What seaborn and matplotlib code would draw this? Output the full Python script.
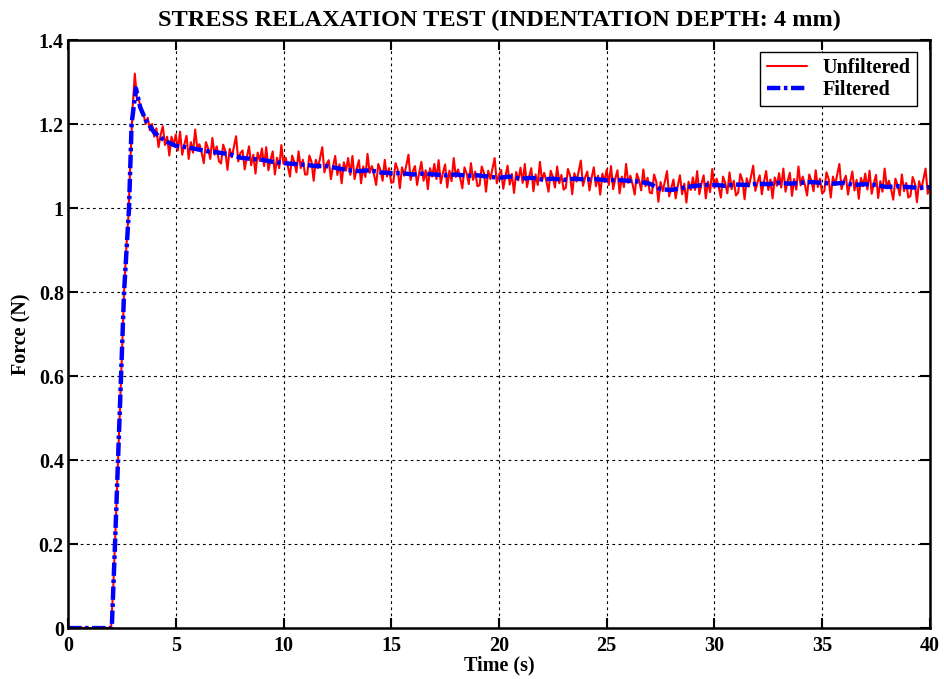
import numpy as np
import pandas as pd
import matplotlib
matplotlib.use("Agg")
import matplotlib.pyplot as plt
import seaborn as sns

# ---------------- data ----------------
title = "STRESS RELAXATION TEST (INDENTATION DEPTH: 4 mm)"
x_label = "Time (s)"
y_label = "Force (N)"
x_ticks = [0, 5, 10, 15, 20, 25, 30, 35, 40]
y_ticks = [0, 0.2, 0.4, 0.6, 0.8, 1.0, 1.2, 1.4]
y_tick_labels = ["0", "0.2", "0.4", "0.6", "0.8", "1", "1.2", "1.4"]

raw_t_start, raw_t_step = 0.0, 0.1
force_raw = [
    # 0.0 - 2.0
    0, 0.002, 0, -0.001, 0.001, 0, 0.002, 0, 0, 0.001,
    0, -0.001, 0.002, 0, 0.001, 0, 0, 0.002, 0, 0.001, 0,
    # 2.1 - 3.0
    0.10, 0.23, 0.37, 0.51, 0.65, 0.80, 0.90, 0.98, 1.12, 1.24,
    # 3.1 - 4.0
    1.32, 1.26, 1.255, 1.23, 1.225, 1.20, 1.215, 1.185, 1.20, 1.17,
    1.19, 1.145, 1.175, 1.195, 1.15, 1.17, 1.125, 1.17, 1.15, 1.175,
    1.137, 1.182, 1.127, 1.152, 1.172, 1.117, 1.157, 1.132, 1.187, 1.142,
    1.152, 1.132, 1.107, 1.157, 1.142, 1.117, 1.167, 1.127, 1.147, 1.112,
    1.106, 1.151, 1.136, 1.091, 1.141, 1.121, 1.146, 1.171, 1.111, 1.131,
    1.137, 1.092, 1.122, 1.147, 1.102, 1.127, 1.082, 1.132, 1.112, 1.142,
    1.10, 1.145, 1.09, 1.115, 1.135, 1.08, 1.12, 1.095, 1.15, 1.105,
    1.12, 1.10, 1.075, 1.125, 1.11, 1.085, 1.135, 1.095, 1.115, 1.08,
    1.08, 1.125, 1.11, 1.065, 1.115, 1.095, 1.12, 1.145, 1.085, 1.105,
    1.114, 1.069, 1.099, 1.124, 1.079, 1.104, 1.059, 1.109, 1.089, 1.119,
    1.079, 1.124, 1.069, 1.094, 1.114, 1.059, 1.099, 1.074, 1.129, 1.084,
    1.10, 1.08, 1.055, 1.105, 1.09, 1.065, 1.115, 1.075, 1.095, 1.06,
    1.062, 1.107, 1.092, 1.047, 1.097, 1.077, 1.102, 1.127, 1.067, 1.087,
    1.10, 1.055, 1.085, 1.11, 1.065, 1.09, 1.045, 1.095, 1.075, 1.105,
    1.069, 1.114, 1.059, 1.084, 1.104, 1.049, 1.089, 1.064, 1.119, 1.074,
    1.092, 1.072, 1.047, 1.097, 1.082, 1.057, 1.107, 1.067, 1.087, 1.052,
    1.054, 1.099, 1.084, 1.039, 1.089, 1.069, 1.094, 1.119, 1.059, 1.079,
    1.091, 1.046, 1.076, 1.101, 1.056, 1.081, 1.036, 1.086, 1.066, 1.096,
    1.06, 1.105, 1.05, 1.075, 1.095, 1.04, 1.08, 1.055, 1.11, 1.065,
    1.084, 1.064, 1.039, 1.089, 1.074, 1.049, 1.099, 1.059, 1.079, 1.044,
    1.048, 1.093, 1.078, 1.033, 1.083, 1.063, 1.088, 1.113, 1.053, 1.073,
    1.087, 1.042, 1.072, 1.097, 1.052, 1.077, 1.032, 1.082, 1.062, 1.092,
    1.055, 1.10, 1.045, 1.07, 1.09, 1.035, 1.075, 1.05, 1.105, 1.06,
    1.077, 1.057, 1.032, 1.082, 1.067, 1.042, 1.092, 1.052, 1.072, 1.037,
    1.035, 1.08, 1.063, 1.015, 1.062, 1.04, 1.063, 1.088, 1.028, 1.048,
    1.068, 1.023, 1.053, 1.078, 1.033, 1.058, 1.013, 1.063, 1.043, 1.073,
    1.043, 1.088, 1.033, 1.058, 1.078, 1.023, 1.063, 1.038, 1.093, 1.048,
    1.07, 1.05, 1.025, 1.075, 1.06, 1.035, 1.085, 1.045, 1.065, 1.03,
    1.036, 1.081, 1.066, 1.021, 1.071, 1.051, 1.076, 1.101, 1.041, 1.061,
    1.078, 1.033, 1.063, 1.088, 1.043, 1.068, 1.023, 1.073, 1.053, 1.083,
    1.049, 1.094, 1.039, 1.064, 1.084, 1.029, 1.069, 1.044, 1.099, 1.054,
    1.075, 1.055, 1.03, 1.08, 1.065, 1.04, 1.09, 1.05, 1.07, 1.035,
    1.04, 1.085, 1.07, 1.025, 1.075, 1.055, 1.08, 1.105, 1.045, 1.065,
    1.077, 1.032, 1.062, 1.087, 1.042, 1.067, 1.022, 1.072, 1.052, 1.082,
    1.044, 1.089, 1.034, 1.059, 1.079, 1.024, 1.064, 1.039, 1.094, 1.049,
    1.065, 1.045, 1.02, 1.07, 1.055, 1.03, 1.08, 1.04, 1.06, 1.025,
    1.029, 1.074, 1.059, 1.014, 1.064, 1.044, 1.069, 1.094, 1.034, 1.054,
]
time_raw = np.round(raw_t_start + raw_t_step * np.arange(len(force_raw)), 2)

time_filt = [0, 0.5, 1.0, 1.5, 2.03, 2.18, 2.32, 2.46, 2.6, 2.83, 2.95, 3.15,
             3.35, 3.6, 3.8, 4.0, 4.5, 5.0, 5.5, 6.0, 6.5, 7.0, 7.5, 8.0, 8.5,
             9.0, 9.5, 10.0, 10.5, 11.0, 11.5, 12.0, 12.5, 13.0, 13.5, 14.0,
             14.5, 15.0, 15.5, 16.0, 16.5, 17.0, 17.5, 18.0, 18.5, 19.0, 19.5,
             20.0, 20.5, 21.0, 21.5, 22.0, 22.5, 23.0, 23.5, 24.0, 24.5, 25.0,
             25.5, 26.0, 26.5, 27.0, 27.5, 28.0, 28.5, 29.0, 29.5, 30.0, 30.5,
             31.0, 31.5, 32.0, 32.5, 33.0, 33.5, 34.0, 34.5, 35.0, 35.5, 36.0,
             36.5, 37.0, 37.5, 38.0, 38.5, 39.0, 39.5, 40.0]
force_filt = [0, 0, 0, 0, 0, 0.2, 0.4, 0.6, 0.8, 1.0, 1.2, 1.285,
              1.24, 1.21, 1.195, 1.18, 1.16, 1.148, 1.145, 1.14, 1.135, 1.132,
              1.128, 1.12, 1.117, 1.115, 1.11, 1.107, 1.105, 1.103, 1.10, 1.10,
              1.095, 1.09, 1.088, 1.09, 1.085, 1.083, 1.083, 1.08, 1.082, 1.08,
              1.078, 1.08, 1.077, 1.078, 1.075, 1.072, 1.075, 1.07, 1.072, 1.068,
              1.07, 1.067, 1.07, 1.068, 1.069, 1.066, 1.067, 1.065, 1.063, 1.058,
              1.045, 1.043, 1.048, 1.052, 1.055, 1.055, 1.053, 1.056, 1.055, 1.058,
              1.057, 1.06, 1.058, 1.06, 1.062, 1.06, 1.058, 1.06, 1.055, 1.057,
              1.055, 1.05, 1.052, 1.05, 1.048, 1.05]
assert len(time_filt) == len(force_filt)

df_raw = pd.DataFrame({"time": time_raw, "force": force_raw})
df_filt = pd.DataFrame({"time": time_filt, "force": force_filt})

# ---------------- style ----------------
sns.set_theme(style="ticks")
plt.rcParams["font.family"] = ["Liberation Serif", "DejaVu Serif"]
plt.rcParams["font.weight"] = "bold"
plt.rcParams["text.color"] = "black"
plt.rcParams["axes.labelcolor"] = "black"
plt.rcParams["xtick.color"] = "black"
plt.rcParams["ytick.color"] = "black"

fig = plt.figure(figsize=(9.45, 6.79), dpi=100)
ax = fig.add_axes([0.072, 0.075, 0.912, 0.866])

sns.lineplot(data=df_raw, x="time", y="force", ax=ax, color="#ff0000",
             linewidth=1.5, estimator=None, label="Unfiltered")
sns.lineplot(data=df_filt, x="time", y="force", ax=ax, color="#0000ff",
             linewidth=3.2, estimator=None, label="Filtered",
             dashes=False)
ax.lines[-1].set_dashes([3.0, 0.8, 0.8, 0.8])

ax.set_xlim(0, 40)
ax.set_ylim(0, 1.4)
ax.set_xticks(x_ticks)
ax.set_xticklabels([str(v) for v in x_ticks])
ax.set_yticks(y_ticks)
ax.set_yticklabels(y_tick_labels)

ax.grid(True, color="black", linestyle=(0, (2.5, 3)), linewidth=0.8)
ax.tick_params(direction="in", top=True, right=True, length=7, width=1.5,
               labelsize=14.5, colors="black", labelcolor="black")
ax.tick_params(axis="x", pad=6)
ax.tick_params(axis="y", pad=3)
for lab in ax.get_xticklabels() + ax.get_yticklabels():
    lab.set_fontweight("bold")
for s in ax.spines.values():
    s.set_visible(True)
    s.set_linewidth(1.8)
    s.set_color("black")

ax.set_title(title, fontsize=17.5, fontweight="bold", pad=10, color="black")
ax.set_xlabel(x_label, fontsize=14.5, fontweight="bold", labelpad=-1, color="black")
ax.set_ylabel(y_label, fontsize=14.5, fontweight="bold", labelpad=5, color="black")

leg = ax.legend(loc="upper right", bbox_to_anchor=(0.985, 0.98),
                borderaxespad=0.0,
                fancybox=False, framealpha=1, edgecolor="black",
                prop={"family": "Liberation Serif", "weight": "bold", "size": 14.5},
                handlelength=2.0, handletextpad=0.8, borderpad=0.3,
                labelspacing=0.1)
leg.get_frame().set_linewidth(1.0)
for txt in leg.get_texts():
    txt.set_color("black")

fig.savefig("out.png", dpi=100, facecolor="white")
